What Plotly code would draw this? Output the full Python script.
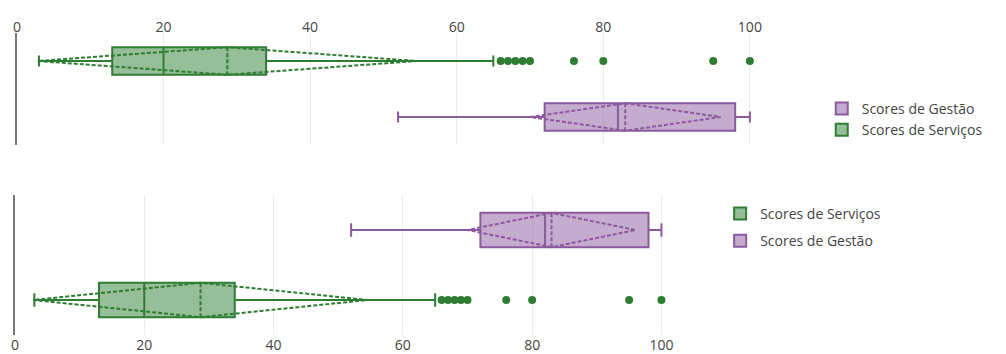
import plotly.graph_objects as go

# ---- data ----
series_names = ["Scores de Serviços", "Scores de Gestão"]
categories = ["Serviços", "Gestão"]
q1_vals = [13, 72]
median_vals = [20, 82]
q3_vals = [34, 98]
lower_fence = [3, 52]
upper_fence = [65, 100]
mean_vals = [28.7, 83]
sd_vals = [25.9, 13]
servicos_outliers = [66, 67, 68, 69, 70, 76, 80, 95, 100]
tick_vals = [0, 20, 40, 60, 80, 100]

line_colors = ["#2e7d32", "#8b5a9e"]
fill_colors = ["rgba(46,125,50,0.5)", "rgba(139,90,158,0.5)"]

FONT = "Open Sans, Noto Sans, sans-serif"
W, H = 1006, 354

fig = go.Figure()

# panel definitions: (xaxis, yaxis, legend, legend ranks)
panels = [("x", "y", "legend", [1, 2]), ("x2", "y2", "legend2", [2, 1])]

for xa, ya, lg, ranks in panels:
    for i in range(2):
        fig.add_trace(go.Box(
            name=series_names[i],
            y=[categories[i]],
            q1=[q1_vals[i]], median=[median_vals[i]], q3=[q3_vals[i]],
            lowerfence=[lower_fence[i]], upperfence=[upper_fence[i]],
            mean=[mean_vals[i]], sd=[sd_vals[i]],
            boxmean="sd", orientation="h",
            line=dict(color=line_colors[i], width=2),
            fillcolor=fill_colors[i],
            whiskerwidth=0.4,
            legendrank=ranks[i],
            legendgroup=series_names[i] + lg,
            xaxis=xa, yaxis=ya, legend=lg,
        ))
    fig.add_trace(go.Scatter(
        x=servicos_outliers, y=[categories[0]] * len(servicos_outliers),
        mode="markers", marker=dict(color=line_colors[0], size=8),
        showlegend=False, hoverinfo="x", xaxis=xa, yaxis=ya,
    ))

axis_common = dict(range=[0, 106], tickvals=tick_vals, showgrid=True,
                   gridcolor="#ebebeb", zeroline=False, showline=False,
                   tickfont=dict(size=14, color="#444", family=FONT))
yaxis_common = dict(type="category", categoryorder="array", categoryarray=categories,
                    showticklabels=False, showgrid=False, zeroline=False,
                    showline=True, linecolor="#777", linewidth=1.5)

fig.update_layout(
    width=W, height=H,
    margin=dict(l=0, r=0, t=0, b=0),
    paper_bgcolor="white", plot_bgcolor="white",
    font=dict(family=FONT, size=14, color="#444"),
    xaxis=dict(domain=[11 / W, 699 / W], anchor="y", side="bottom", **axis_common),
    yaxis=dict(domain=[(H - 335) / H, (H - 195) / H], anchor="x", **yaxis_common),
    xaxis2=dict(domain=[13 / W, 793 / W], anchor="y2", side="top",
                ticklabelstandoff=-3, **axis_common),
    yaxis2=dict(domain=[(H - 145) / H, (H - 33) / H], anchor="x2",
                autorange="reversed", **yaxis_common),
    legend=dict(x=719 / W, y=(H - 198) / H, xanchor="left", yanchor="top",
                traceorder="grouped", tracegroupgap=6,
                font=dict(size=14, color="#444", family=FONT),
                bgcolor="rgba(0,0,0,0)"),
    legend2=dict(x=821 / W, y=(H - 93) / H, xanchor="left", yanchor="top",
                 traceorder="grouped", tracegroupgap=0,
                 font=dict(size=14, color="#444", family=FONT),
                 bgcolor="rgba(0,0,0,0)"),
)

fig.write_html("out.html", config={"displayModeBar": False},
               post_script="document.body.style.margin='0px';document.body.style.padding='0px';")
